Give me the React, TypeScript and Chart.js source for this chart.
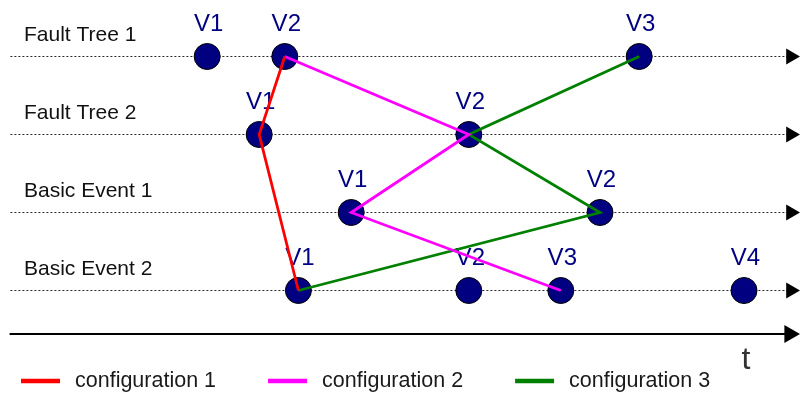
import React, { useEffect, useRef } from 'react';
import { Chart, registerables } from 'chart.js';

Chart.register(...registerables);

// ---- data ----
const laneNames = ['Fault Tree 1', 'Fault Tree 2', 'Basic Event 1', 'Basic Event 2'];
const laneLevels = [4, 3, 2, 1];
// version times (same time unit as the t axis, 0..100) per lane
const faultTree1Times = [25.9, 35.6, 79.9];
const faultTree2Times = [32.4, 58.6];
const basicEvent1Times = [43.9, 75.0];
const basicEvent2Times = [37.3, 58.6, 70.1, 93.0];
const laneTimes = [faultTree1Times, faultTree2Times, basicEvent1Times, basicEvent2Times];
const versionNames = ['V1', 'V2', 'V3', 'V4'];

// configurations: [lane index, version index] in path order
const configNames = ['configuration 1', 'configuration 2', 'configuration 3'];
const config1Path = [[0, 1], [1, 0], [3, 0]];
const config2Path = [[0, 1], [1, 1], [2, 0], [3, 2]];
const config3Path = [[0, 2], [1, 1], [2, 1], [3, 0]];
const configPaths = [config1Path, config2Path, config3Path];
const configColors = ['#ff0000', '#ff00ff', '#008000'];

const timeStart = 1.3;
const laneEnd = 98.85;
const axisEnd = 98.7;
const timeAxisLevel = 0.4423;

const FONT = '"Liberation Sans", Arial, Helvetica, sans-serif';

const versionPoints = laneTimes.flatMap((times, li) =>
  times.map((t, vi) => ({ x: t, y: laneLevels[li], v: versionNames[vi] }))
);

const diagramText = {
  id: 'diagramText',
  beforeDatasetsDraw(chart: any) {
    const { ctx, chartArea, scales } = chart;
    const y = scales.y;
    ctx.save();
    ctx.textBaseline = 'middle';
    ctx.textAlign = 'left';
    ctx.fillStyle = '#111111';
    ctx.font = `21px ${FONT}`;
    laneNames.forEach((name, i) => {
      ctx.fillText(name, chartArea.left + 24, y.getPixelForValue(laneLevels[i]) - 21);
    });
    // version labels
    const idx = chart.data.datasets.findIndex((d: any) => d.id === 'versions');
    const meta = chart.getDatasetMeta(idx);
    ctx.textAlign = 'center';
    ctx.fillStyle = '#000080';
    ctx.font = `24px ${FONT}`;
    meta.data.forEach((el: any, i: number) => {
      const p = chart.data.datasets[idx].data[i];
      ctx.fillText(p.v, el.x + 1.5, el.y - 32);
    });
    // t label
    ctx.fillStyle = '#333333';
    ctx.font = `32px ${FONT}`;
    ctx.fillText('t', chart.scales.x.getPixelForValue(93.25), y.getPixelForValue(timeAxisLevel) + 26);
    ctx.restore();
  },
  afterDraw(chart: any) {
    const { ctx, chartArea } = chart;
    ctx.save();
    ctx.font = `21.5px ${FONT}`;
    ctx.textBaseline = 'middle';
    ctx.textAlign = 'left';
    const yy = 381;
    let x = chartArea.left + 21;
    const lineW = 39;
    configNames.forEach((name, i) => {
      ctx.fillStyle = configColors[i];
      ctx.fillRect(x, yy - 2.25, lineW, 4.5);
      ctx.fillStyle = '#1a1a1a';
      ctx.fillText(name, x + lineW + 15, yy);
      x += lineW + 15 + ctx.measureText(name).width + 52;
    });
    ctx.restore();
  },
};

export default function App() {
  const ref = useRef<HTMLCanvasElement | null>(null);
  useEffect(() => {
    if (!ref.current) return;
    const configDatasets = configPaths.map((path, i) => ({
      type: 'line',
      label: configNames[i],
      data: path.map(([li, vi]) => ({ x: laneTimes[li][vi], y: laneLevels[li] })),
      borderColor: configColors[i],
      backgroundColor: configColors[i],
      borderWidth: 2.8,
      pointRadius: 0,
      tension: 0,
      fill: false,
      order: 0,
    }));
    const laneDatasets = laneLevels.map((lv) => ({
      type: 'line',
      label: 'lane',
      data: [{ x: timeStart, y: lv }, { x: laneEnd, y: lv }],
      borderColor: '#2a2a2a',
      borderWidth: 1,
      borderDash: [2, 2],
      pointRadius: [0, 9.2],
      pointStyle: 'triangle',
      rotation: 90,
      pointBackgroundColor: '#000000',
      pointBorderColor: '#000000',
      pointBorderWidth: 0,
      tension: 0,
      fill: false,
      order: 2,
    }));
    const axisDataset = {
      type: 'line',
      label: 'axis',
      data: [{ x: timeStart - 0.1, y: timeAxisLevel }, { x: axisEnd, y: timeAxisLevel }],
      borderColor: '#000000',
      borderWidth: 2,
      pointRadius: [0, 10.5],
      pointStyle: 'triangle',
      rotation: 90,
      pointBackgroundColor: '#000000',
      pointBorderColor: '#000000',
      pointBorderWidth: 0,
      tension: 0,
      fill: false,
      order: 2,
    };
    const versionDataset = {
      type: 'scatter',
      id: 'versions',
      label: 'versions',
      data: versionPoints,
      pointRadius: 13,
      pointBackgroundColor: '#000080',
      pointBorderColor: '#000000',
      pointBorderWidth: 1,
      showLine: false,
      order: 1,
    };
    const chart = new Chart(ref.current, {
      type: 'line',
      data: { datasets: [...configDatasets, versionDataset, ...laneDatasets, axisDataset] as any },
      options: {
        animation: false,
        responsive: false,
        events: [],
        layout: { padding: 0, autoPadding: false },
        scales: {
          x: { type: 'linear', min: 0, max: 100, display: false },
          y: { type: 'linear', min: -0.326923, max: 4.724359, display: false },
        },
        plugins: {
          legend: { display: false },
          tooltip: { enabled: false },
        },
      } as any,
      plugins: [diagramText],
    });
    return () => chart.destroy();
  }, []);
  return (
    <div style={{ position: 'fixed', left: 0, top: 0, width: 800, height: 394, background: '#fff' }}>
      <canvas ref={ref} width={800} height={394} style={{ display: 'block' }} />
    </div>
  );
}
